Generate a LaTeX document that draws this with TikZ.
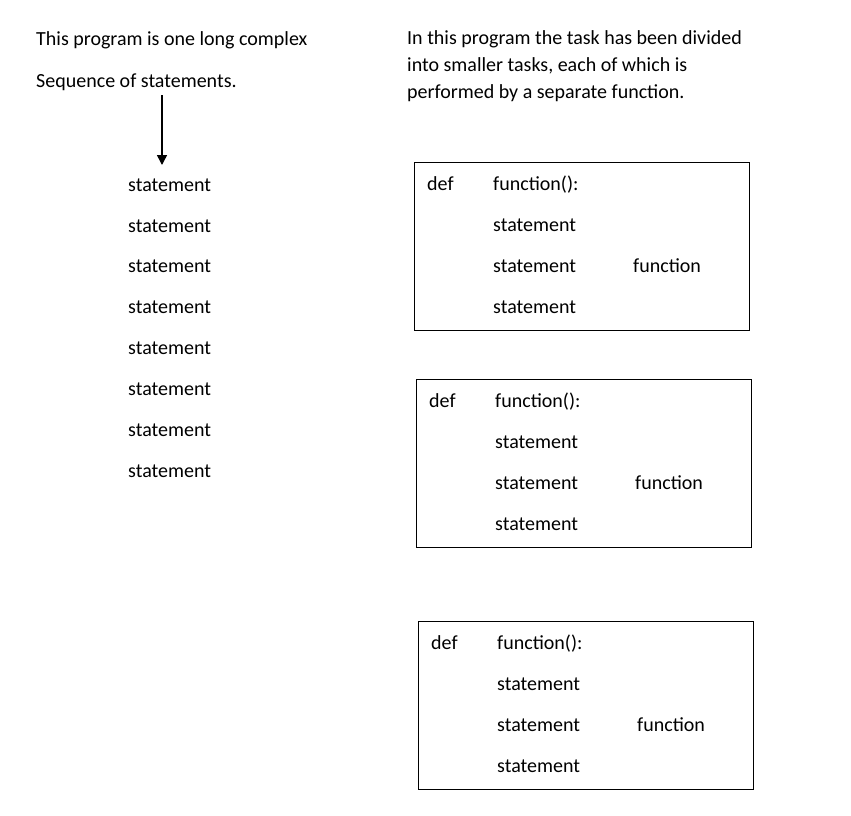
\documentclass[tikz,border=0pt]{standalone}
\usepackage{fontspec}
\setmainfont{Carlito}
\usetikzlibrary{arrows.meta}
\begin{document}
\begin{tikzpicture}[x=1pt,y=-1pt,
  txt/.style={anchor=base west,inner sep=0pt,font=\fontsize{20}{24}\selectfont},
  fbox/.style={draw,line width=1pt}]
\useasboundingbox[fill=white] (0,0) rectangle (851,815);
% left column
\node[txt] (l1) at (36,45.5) {This program is one long complex};
\node[txt] (l2) at (36,87) {Sequence of statements.};
\coordinate (as) at (162,95);
\coordinate (ae) at (162,165);
\draw[line width=1.5pt,-{Triangle[width=10pt,length=10pt]}] (as) -- (ae);
\foreach \i/\y in {1/184,2/225,3/265,4/306,5/347,6/388,7/429,8/470}{
  \node[txt] (s\i) at (128,\y+7.5) {statement};
}
% right text
\node[txt] (r1) at (407,44) {In this program the task has been divided};
\node[txt] (r2) at (407,71) {into smaller tasks, each of which is};
\node[txt] (r3) at (407,98) {performed by a separate function.};
% boxes
\foreach \b/\dx/\dy in {a/0/0,b/2/217,c/4/459}{
  \draw[fbox] (414+\dx,162+\dy) rectangle (749+\dx,330+\dy);
  \node[txt] (\b def) at (427+\dx,190.5+\dy) {def};
  \node[txt] (\b fn) at (493+\dx,190.5+\dy) {function():};
  \node[txt] (\b s1) at (493+\dx,231.5+\dy) {statement};
  \node[txt] (\b s2) at (493+\dx,272.5+\dy) {statement};
  \node[txt] (\b s3) at (493+\dx,313.5+\dy) {statement};
  \node[txt] (\b lab) at (633+\dx,272.5+\dy) {function};
}
\end{tikzpicture}
\end{document}
